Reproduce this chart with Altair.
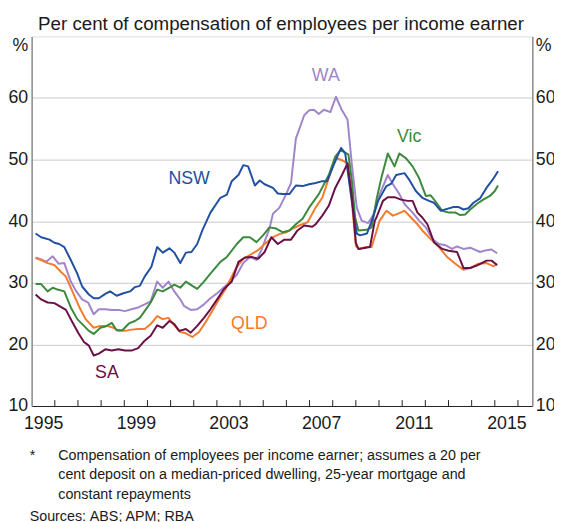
import altair as alt
import pandas as pd

FONT = "Liberation Sans"
TXT = "#1a1a1a"

# ---- data ----
nsw_years = [1995.17,1995.41,1995.77,1995.98,1996.19,1996.41,1996.69,1996.97,1997.18,1997.47,
             1997.68,1997.90,1998.18,1998.39,1998.67,1998.96,1999.25,1999.46,1999.67,1999.88,
             2000.17,2000.42,2000.66,2000.95,2001.16,2001.42,2001.66,2001.90,2002.15,2002.37,
             2002.72,2003.15,2003.43,2003.64,2003.93,2004.14,2004.35,2004.64,2004.85,2005.06,
             2005.42,2005.63,2005.85,2006.13,2006.41,2006.70,2006.98,2007.26,2007.55,2007.76,
             2008.04,2008.36,2008.54,2008.80,2009.04,2009.18,2009.48,2009.73,2009.96,2010.32,
             2010.53,2010.74,2011.10,2011.31,2011.59,2011.87,2012.16,2012.37,2012.66,2012.94,
             2013.22,2013.44,2013.65,2013.86,2014.08,2014.36,2014.64,2014.90,2015.14]
nsw_values = [38.0,37.4,37.0,36.5,36.3,35.8,33.7,31.5,29.4,28.1,
              27.5,27.5,28.2,28.6,27.9,28.3,28.6,29.3,29.5,31.0,
              32.6,35.8,34.9,35.6,34.9,33.2,34.9,35.0,36.3,38.5,
              41.4,43.8,44.3,46.5,47.5,49.1,48.9,45.8,46.6,46.0,
              45.4,44.5,44.4,44.4,45.8,45.7,46.0,46.2,46.5,46.5,
              49.1,51.9,51.0,44.0,38.0,37.7,38.0,40.5,43.3,45.7,
              46.1,47.5,47.8,46.7,44.9,43.8,43.3,43.0,41.7,42.0,
              42.3,42.3,41.9,42.1,43.0,43.7,45.4,46.7,48.1]

wa_years = [1995.17,1995.41,1995.63,1995.91,1996.16,1996.41,1996.69,1996.93,1997.18,1997.44,
            1997.68,1997.90,1998.18,1998.46,1998.75,1999.03,1999.31,1999.60,1999.88,2000.14,
            2000.42,2000.66,2000.91,2001.16,2001.40,2001.59,2001.87,2002.15,2002.44,2002.72,
            2003.01,2003.43,2003.86,2004.14,2004.42,2004.71,2004.92,2005.13,2005.27,2005.42,
            2005.70,2005.99,2006.20,2006.41,2006.77,2006.98,2007.19,2007.40,2007.62,2007.90,
            2008.14,2008.40,2008.64,2008.83,2009.04,2009.25,2009.53,2009.75,2010.03,2010.38,
            2010.60,2010.88,2011.10,2011.45,2011.73,2012.02,2012.30,2012.59,2012.87,2013.15,
            2013.37,2013.65,2013.94,2014.36,2014.64,2014.86,2015.10]
wa_values = [34.1,33.8,33.4,34.3,33.1,33.2,30.2,28.6,27.3,26.8,
             24.9,25.7,25.7,25.6,25.6,25.4,25.7,26.0,26.5,27.0,
             30.2,29.2,30.2,28.6,27.4,26.2,25.6,25.7,26.5,27.5,
             28.3,29.7,31.3,33.2,34.2,33.7,35.3,37.4,38.8,41.2,
             42.2,44.4,46.2,53.4,57.2,58.0,58.1,57.4,58.1,57.7,
             60.2,58.0,56.5,49.1,42.2,40.1,39.7,41.0,44.4,47.5,
             46.0,44.4,42.8,41.4,40.1,39.0,37.1,36.3,36.1,35.5,
             35.9,35.5,35.7,35.0,35.3,35.4,34.8]

vic_years = [1995.17,1995.41,1995.69,1995.91,1996.12,1996.41,1996.69,1996.97,1997.26,1997.47,
             1997.68,1997.97,1998.18,1998.46,1998.67,1998.92,1999.20,1999.46,1999.67,1999.88,
             2000.14,2000.42,2000.66,2000.95,2001.16,2001.42,2001.66,2001.94,2002.15,2002.44,
             2002.72,2003.15,2003.43,2003.86,2004.14,2004.42,2004.71,2004.99,2005.27,2005.56,
             2005.85,2006.13,2006.41,2006.70,2006.98,2007.40,2007.83,2008.11,2008.33,2008.47,
             2008.68,2008.83,2008.97,2009.11,2009.46,2009.68,2009.89,2010.10,2010.38,2010.67,
             2010.88,2011.17,2011.45,2011.73,2012.02,2012.23,2012.44,2012.73,2013.01,2013.30,
             2013.51,2013.72,2013.94,2014.22,2014.50,2014.79,2015.00,2015.14]
vic_values = [29.8,29.8,28.6,29.2,28.9,28.6,26.0,24.1,23.0,22.2,
              21.7,22.7,22.9,23.5,22.3,22.3,23.4,23.8,24.3,25.4,
              26.8,28.9,28.6,29.2,29.7,29.2,30.2,29.5,29.0,30.2,
              31.5,33.4,34.2,36.3,37.4,37.4,36.6,37.7,39.0,38.8,
              38.2,38.5,39.5,40.4,42.2,44.4,47.5,50.5,51.5,51.3,
              50.8,46.5,40.6,38.5,38.6,39.0,43.5,47.0,51.0,48.9,
              51.0,50.2,48.9,47.0,44.1,44.2,43.2,41.7,41.4,41.4,
              41.0,41.1,41.9,42.8,43.5,44.1,44.9,45.8]

qld_years = [1995.17,1995.41,1995.69,1995.98,1996.26,1996.48,1996.76,1997.04,1997.33,1997.68,
             1997.97,1998.25,1998.53,1998.75,1999.03,1999.31,1999.60,1999.88,2000.14,2000.42,
             2000.66,2000.91,2001.16,2001.42,2001.66,2001.94,2002.23,2002.51,2002.79,2003.08,
             2003.36,2003.57,2003.86,2004.14,2004.42,2004.78,2005.06,2005.42,2005.70,2005.99,
             2006.27,2006.55,2006.91,2007.26,2007.55,2007.83,2008.11,2008.40,2008.64,2008.83,
             2009.00,2009.11,2009.46,2009.68,2010.03,2010.32,2010.60,2010.88,2011.10,2011.38,
             2011.66,2011.87,2012.23,2012.59,2012.94,2013.30,2013.65,2013.94,2014.29,2014.64,
             2014.93,2015.10]
qld_values = [34.0,33.7,33.2,32.9,31.8,31.0,28.6,26.2,24.1,22.7,
              23.0,23.0,22.7,22.2,22.2,22.4,22.5,22.5,23.3,24.6,
              24.1,24.3,23.1,22.0,21.8,21.2,22.0,23.6,25.4,27.3,
              28.9,30.5,32.6,33.9,34.5,35.3,36.3,37.4,37.9,38.2,
              38.8,39.3,39.8,42.2,43.8,47.0,50.3,49.9,49.4,43.0,
              36.0,35.5,35.8,35.8,40.1,41.7,40.9,41.3,41.7,40.6,
              39.5,38.5,37.1,35.8,34.2,33.1,32.1,32.4,33.1,33.2,
              32.7,33.0]

sa_years = [1995.17,1995.41,1995.69,1995.98,1996.26,1996.48,1996.76,1997.04,1997.26,1997.47,
            1997.68,1997.90,1998.18,1998.46,1998.75,1999.03,1999.31,1999.60,1999.88,2000.14,
            2000.42,2000.66,2000.95,2001.16,2001.37,2001.66,2001.87,2002.15,2002.44,2002.72,
            2003.01,2003.29,2003.64,2003.93,2004.21,2004.50,2004.78,2005.06,2005.35,2005.63,
            2005.91,2006.20,2006.48,2006.77,2007.12,2007.26,2007.55,2007.83,2008.11,2008.40,
            2008.64,2008.83,2009.00,2009.11,2009.61,2009.82,2009.89,2010.17,2010.38,2010.67,
            2010.95,2011.24,2011.45,2011.66,2011.87,2012.09,2012.37,2012.73,2013.01,2013.37,
            2013.65,2013.94,2014.29,2014.64,2014.86,2015.10]
sa_values = [28.1,27.3,26.8,26.7,26.1,25.6,23.6,21.7,20.4,19.8,
             18.2,18.5,19.2,19.0,19.2,19.0,19.0,19.4,20.6,21.4,
             23.1,22.7,23.8,23.3,22.2,22.5,21.9,23.0,24.3,25.7,
             27.3,28.9,30.2,33.4,34.1,34.2,33.9,35.0,37.4,36.3,
             37.0,37.0,38.5,39.3,39.1,39.5,40.9,42.5,45.4,47.5,
             49.4,44.0,36.5,35.5,35.8,40.1,40.6,43.3,43.9,43.9,
             43.5,43.3,43.3,41.4,40.6,39.5,36.6,35.5,35.2,35.0,
             32.4,32.4,32.9,33.6,33.6,32.9]

# draw order (first drawn = bottom)
series = [
    ("WA", wa_years, wa_values, "#a085cb"),
    ("QLD", qld_years, qld_values, "#f47a2c"),
    ("Vic", vic_years, vic_values, "#3b8a3b"),
    ("NSW", nsw_years, nsw_values, "#2150a2"),
    ("SA", sa_years, sa_values, "#6a1046"),
]

# series labels on the chart
label_names = ["NSW", "WA", "Vic", "QLD", "SA"]
label_years = [2001.8, 2007.7, 2011.3, 2004.4, 1998.25]
label_values = [46.8, 63.6, 53.7, 23.3, 15.3]
label_colors = ["#2150a2", "#a085cb", "#3b8a3b", "#f47a2c", "#6a1046"]

year_ticks = list(range(1996, 2017))
year_label_pos = [1995.5, 1999.5, 2003.5, 2007.5, 2011.5, 2015.5]
y_ticks = [10, 20, 30, 40, 50, 60]

subtitle = "Per cent of compensation of employees per income earner"
footnote_lines = [
    "Compensation of employees per income earner; assumes a 20 per",
    "cent deposit on a median-priced dwelling, 25-year mortgage and",
    "constant repayments",
]

W, H = 508, 375
x_scale = alt.Scale(domain=[1995, 2016.62], nice=False, zero=False)
y_scale = alt.Scale(domain=[10, 70], nice=False, zero=False)

x_axis = alt.Axis(values=year_label_pos, labelExpr="'' + floor(datum.value)", ticks=False,
                  grid=False, domainColor="#222222", domainWidth=1, labelFont=FONT,
                  labelFontSize=18, labelColor=TXT, labelPadding=9, title=None,
                  labelFlush=False, labelOverlap=False)
y_left = alt.Axis(values=y_ticks, grid=True, gridColor="#c8c8c8", gridWidth=1, ticks=False,
                  domainColor="#8c8c8c", domainWidth=1.5, labelFont=FONT, labelFontSize=18,
                  labelColor=TXT, labelPadding=4, title="%", titleAngle=0, titleX=-4,
                  titleY=0, titleAlign="right", titleBaseline="top", titleFont=FONT,
                  titleFontSize=18, titleFontWeight="normal", titleColor=TXT)
y_right = alt.Axis(orient="right", values=y_ticks, grid=False, ticks=False,
                   domainColor="#8c8c8c", domainWidth=1.5, labelFont=FONT, labelFontSize=18,
                   labelColor=TXT, labelPadding=3, title="%", titleAngle=0, titleX=3,
                   titleY=0, titleAlign="left", titleBaseline="top", titleFont=FONT,
                   titleFontSize=18, titleFontWeight="normal", titleColor=TXT)

layers = []
for i, (name, yrs, vals, col) in enumerate(series):
    assert len(yrs) == len(vals), name
    d = pd.DataFrame({"year": yrs, "value": vals})
    layers.append(
        alt.Chart(d).mark_line(color=col, strokeWidth=2, strokeJoin="round").encode(
            x=alt.X("year:Q", scale=x_scale, axis=x_axis if i == 0 else None),
            y=alt.Y("value:Q", scale=y_scale, axis=y_left if i == 0 else None),
        )
    )

lab_df = pd.DataFrame({"name": label_names, "year": label_years,
                       "value": label_values, "col": label_colors})
labels = alt.Chart(lab_df).mark_text(font=FONT, fontSize=18, align="center",
                                     baseline="middle").encode(
    x=alt.X("year:Q", scale=x_scale, axis=None),
    y=alt.Y("value:Q", scale=y_scale, axis=y_right),
    text="name:N",
    color=alt.Color("col:N", scale=None),
)
layers.append(labels)

tick_df = pd.DataFrame({"year": year_ticks})
ticks = alt.Chart(tick_df).mark_rule(color="#222222", strokeWidth=1).encode(
    x=alt.X("year:Q", scale=x_scale, axis=None),
    y=alt.value(H),
    y2=alt.value(H - 6),
)
layers.append(ticks)


def note(text, x, y, size=14.5, align="left", baseline="middle"):
    return alt.Chart(pd.DataFrame({"t": [text]})).mark_text(
        font=FONT, fontSize=size, color=TXT, align=align, baseline=baseline).encode(
        x=alt.value(x), y=alt.value(y), text="t:N")


layers.append(note(subtitle, 253, -6, size=19, align="center", baseline="alphabetic"))
layers.append(note("*", -2, 426))
for k, line in enumerate(footnote_lines):
    layers.append(note(line, 27, 426 + 19.5 * k))
layers.append(note("Sources:", -2, 488))
layers.append(note("ABS; APM; RBA", 59, 488))

chart = alt.layer(*layers).resolve_axis(x="independent", y="independent").properties(
    width=W, height=H,
    autosize=alt.AutoSizeParams(type="none"),
    padding={"left": 24, "top": 25, "right": 22, "bottom": 122},
).configure_view(stroke="#333333", strokeWidth=1).configure(background="white")

chart.save("out.html", embed_options={"renderer": "svg", "actions": False})
